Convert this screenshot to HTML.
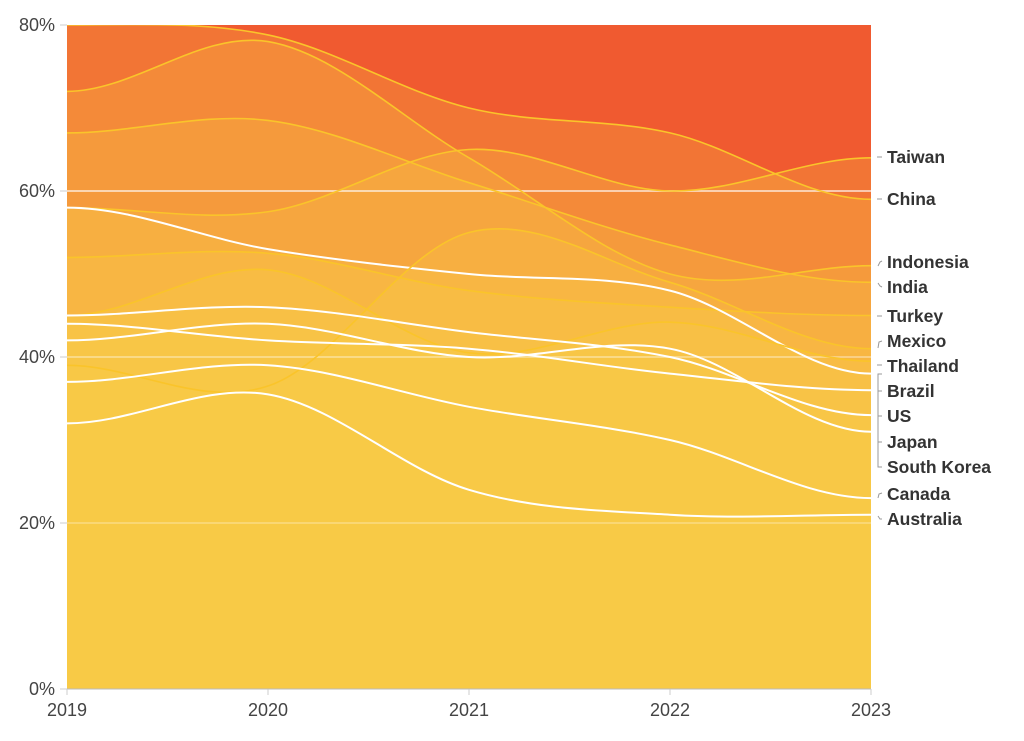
<!DOCTYPE html>
<html><head><meta charset="utf-8"><style>
html,body{margin:0;padding:0;background:#fff;}
svg{display:block;font-family:"Liberation Sans",sans-serif;}
.ax{font-size:18px;fill:#444;}
.lb{font-size:17.5px;font-weight:bold;fill:#333;}
</style></head><body>
<svg id="s" width="1024" height="741" viewBox="0 0 1024 741" xmlns="http://www.w3.org/2000/svg">
<defs><clipPath id="c"><rect x="67" y="25" width="804" height="664"/></clipPath></defs>
<rect x="67" y="25" width="804" height="664" fill="#F05A30"/>
<g id="fills" clip-path="url(#c)"></g>
<line x1="67" x2="871" y1="191" y2="191" stroke="#fff" stroke-opacity="0.6" stroke-width="2"/>
<line x1="67" x2="871" y1="357" y2="357" stroke="#fff" stroke-opacity="0.35" stroke-width="2"/>
<line x1="67" x2="871" y1="523" y2="523" stroke="#fff" stroke-opacity="0.25" stroke-width="2"/>
<g id="lines" clip-path="url(#c)"></g>
<line x1="67" x2="871" y1="689" y2="689" stroke="#bbb" stroke-width="1"/>
<g stroke="#ccc" stroke-width="1">
<line x1="60" x2="67" y1="25" y2="25"/><line x1="60" x2="67" y1="191" y2="191"/><line x1="60" x2="67" y1="357" y2="357"/><line x1="60" x2="67" y1="523" y2="523"/><line x1="60" x2="67" y1="689" y2="689"/>
<line x1="67" x2="67" y1="689" y2="695"/><line x1="268" x2="268" y1="689" y2="695"/><line x1="469" x2="469" y1="689" y2="695"/><line x1="670" x2="670" y1="689" y2="695"/><line x1="871" x2="871" y1="689" y2="695"/>
</g>
<g class="ax" text-anchor="end">
<text x="55" y="31">80%</text><text x="55" y="197">60%</text><text x="55" y="363">40%</text><text x="55" y="529">20%</text><text x="55" y="695">0%</text>
</g>
<g class="ax" text-anchor="middle">
<text x="67" y="716">2019</text><text x="268" y="716">2020</text><text x="469" y="716">2021</text><text x="670" y="716">2022</text><text x="871" y="716">2023</text>
</g>
<g stroke="#999" stroke-width="1" fill="none">
<line x1="877" x2="882" y1="157" y2="157"/><line x1="877" x2="882" y1="199" y2="199"/>
<path d="M878 266 L880 262 L882 261"/><path d="M878 283 L880 286 L882 287"/>
<line x1="877" x2="882" y1="316" y2="316"/><path d="M878 348 L879 342 L882 341"/>
<line x1="877" x2="882" y1="365" y2="365"/>
<path d="M882 374 L878 374 L878 467 L882 467"/><line x1="878" x2="882" y1="391" y2="391"/><line x1="878" x2="882" y1="416" y2="416"/><line x1="878" x2="882" y1="442" y2="442"/>
<path d="M878 498 L879 494 L882 493"/><path d="M878 516 L880 519 L882 519"/>
</g>
<g class="lb">
<text x="887" y="163">Taiwan</text><text x="887" y="205">China</text><text x="887" y="268">Indonesia</text><text x="887" y="293">India</text><text x="887" y="322">Turkey</text><text x="887" y="347">Mexico</text><text x="887" y="372">Thailand</text><text x="887" y="397">Brazil</text><text x="887" y="422">US</text><text x="887" y="448">Japan</text><text x="887" y="473">South Korea</text><text x="887" y="500">Canada</text><text x="887" y="525">Australia</text>
</g>
</svg>
<script>
var S=[
 [[80,78.8,70,67,59],0],
 [[72,78,64,50,51],0],
 [[67,68.5,61,53.5,49],0],
 [[58,57.5,65,60,64],0],
 [[52,52.5,48,46,45],0],
 [[58,53,50,48,38],1],
 [[45,50.5,40.5,44.2,39.5],0],
 [[39,36.5,55,49,41],0],
 [[45,46,43,40,33],1],
 [[44,42,41,38,36],1],
 [[42,44,40,41,31],1],
 [[37,39,34,30,23],1],
 [[32,35.5,24,21,21],1]
];
function X(i){return 67+i*201;}
function Y(v){return 689-v*8.3;}
function path(d){
 var p=d.map(function(v,i){return [X(i),Y(v)];});
 var s="M"+p[0][0]+" "+p[0][1];
 for(var i=0;i<p.length-1;i++){
  var p0=p[i-1]||p[i],p1=p[i],p2=p[i+1],p3=p[i+2]||p[i+1];
  var c1=[p1[0]+(p2[0]-p0[0])/6,p1[1]+(p2[1]-p0[1])/6];
  var c2=[p2[0]-(p3[0]-p1[0])/6,p2[1]-(p3[1]-p1[1])/6];
  if(i==0){c1=[p1[0]+67,p1[1]];}
  if(i==p.length-2){c2=[p2[0]-67,p2[1]];}
  s+=" C"+c1[0].toFixed(1)+" "+c1[1].toFixed(1)+" "+c2[0].toFixed(1)+" "+c2[1].toFixed(1)+" "+p2[0]+" "+p2[1];
 }
 return s;
}
var NS="http://www.w3.org/2000/svg",F=document.getElementById("fills"),L=document.getElementById("lines");
S.forEach(function(s){
 var d=path(s[0]);
 var f=document.createElementNS(NS,"path");
 f.setAttribute("d",d+" L871 689 L67 689 Z");
 f.setAttribute("fill","#FBCF48");f.setAttribute("fill-opacity","0.23");
 F.appendChild(f);
});
S.forEach(function(s){
 var l=document.createElementNS(NS,"path");
 l.setAttribute("d",path(s[0]));l.setAttribute("fill","none");
 l.setAttribute("stroke",s[1]?"#ffffff":"#FAC42A");
 l.setAttribute("stroke-width",s[1]?"2":"1.6");
 L.appendChild(l);
});
</script>
</body></html>
